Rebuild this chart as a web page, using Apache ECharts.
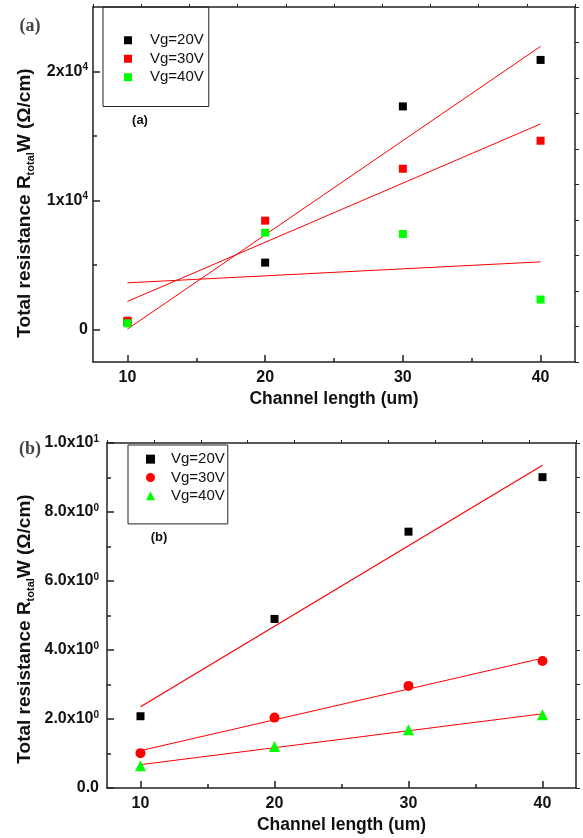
<!DOCTYPE html>
<html>
<head>
<meta charset="utf-8">
<script src="https://cdn.jsdelivr.net/npm/echarts@6/dist/echarts.min.js"></script>
<style>
  html, body { margin: 0; padding: 0; background: #fff; }
  #chart { width: 583px; height: 838px; }
</style>
</head>
<body>
<div id="chart"></div>
<script>
// Channel lengths (um)
const channelLength = [10, 20, 30, 40];
const seriesNames = ['Vg=20V', 'Vg=30V', 'Vg=40V'];

// Panel (a): total resistance R_total·W (Ω/cm)
const aVg20 = [600, 5200, 17300, 20900];
const aVg30 = [700, 8450, 12470, 14640];
const aVg40 = [500, 7520, 7420, 2340];

// Panel (b): total resistance R_total·W (Ω/cm)
const bVg20 = [2.08, 4.9, 7.43, 9.01];
const bVg30 = [1.01, 2.04, 2.96, 3.68];
const bVg40 = [0.645, 1.2, 1.69, 2.12];

// Tick values
const xTicks = [10, 20, 30, 40];
const xMinorTicks = [15, 25, 35];
const aYTicks = [0, 10000, 20000];
const aYMinorTicks = [5000, 15000];
const bYTicks = [0, 2, 4, 6, 8, 10];
const bYMinorTicks = [1, 3, 5, 7, 9];

const FONT = '"Liberation Sans", Arial, sans-serif';
const FRAME = '#222';
const RED = '#ff0000';
const GREEN = '#00ff00';
const BLACK = '#000000';

// Least-squares straight line through a data set, evaluated at the first and last x
function linearFit(xs, ys) {
  const n = xs.length;
  const mx = xs.reduce((s, v) => s + v, 0) / n;
  const my = ys.reduce((s, v) => s + v, 0) / n;
  let sxy = 0, sxx = 0;
  for (let i = 0; i < n; i++) {
    sxy += (xs[i] - mx) * (ys[i] - my);
    sxx += (xs[i] - mx) * (xs[i] - mx);
  }
  const k = sxy / sxx;
  const b = my - k * mx;
  const x0 = xs[0], x1 = xs[n - 1];
  return [[x0, k * x0 + b], [x1, k * x1 + b]];
}

function pairs(xs, ys) { return xs.map((x, i) => [x, ys[i]]); }

const tickRich = {
  m: { fontSize: 16, fontWeight: 'bold', fontFamily: FONT, color: '#111', lineHeight: 18 },
  s: { fontSize: 10, fontWeight: 'bold', fontFamily: FONT, color: '#111', lineHeight: 10, verticalAlign: 'top' }
};

function fmtA(v) {
  if (v === 0) return '{m|0}';
  return '{m|' + (v / 10000) + 'x10}{s|4}';
}
function fmtB(v) {
  if (v === 0) return '{m|0.0}';
  if (v === 10) return '{m|1.0x10}{s|1}';
  return '{m|' + v.toFixed(1) + 'x10}{s|0}';
}

const axisLineStyle = { color: FRAME, width: 1.5 };

function mainX(gridIndex) {
  return {
    gridIndex, type: 'value', min: 7.5, max: 42.5, position: 'bottom',
    axisLine: { show: true, onZero: false, lineStyle: axisLineStyle },
    axisTick: { show: true, inside: true, length: 7, customValues: xTicks, lineStyle: { color: FRAME, width: 1.5 } },
    axisLabel: { show: true, customValues: xTicks, margin: 8, fontSize: 16, fontWeight: 'bold', fontFamily: FONT, color: '#111' },
    splitLine: { show: false },
    name: 'Channel length (um)', nameLocation: 'middle', nameGap: 28,
    nameTextStyle: { fontSize: 17.5, fontWeight: 'bold', fontFamily: FONT, color: '#111' }
  };
}
function minorX(gridIndex) {
  return {
    gridIndex, type: 'value', min: 7.5, max: 42.5, position: 'bottom',
    axisLine: { show: false, onZero: false },
    axisTick: { show: true, inside: true, length: 4, customValues: xMinorTicks, lineStyle: { color: FRAME, width: 1.5 } },
    axisLabel: { show: false }, splitLine: { show: false }
  };
}
function topX(gridIndex) {
  return {
    gridIndex, type: 'value', min: 0, max: 10, interval: 1, position: 'top',
    axisLine: { show: true, onZero: false, lineStyle: axisLineStyle },
    axisTick: { show: true, inside: false, length: 3, lineStyle: { color: FRAME, width: 1 } },
    axisLabel: { show: false }, splitLine: { show: false }
  };
}

const option = {
  backgroundColor: '#fff',
  animation: false,
  grid: [
    { left: 93, top: 7, width: 482, height: 355 },
    { left: 107, top: 443, width: 469, height: 345 }
  ],
  xAxis: [mainX(0), minorX(0), topX(0), mainX(1), minorX(1), topX(1)],
  yAxis: [
    {
      gridIndex: 0, type: 'value', min: -2500, max: 25000, position: 'left',
      axisLine: { show: true, onZero: false, lineStyle: axisLineStyle },
      axisTick: { show: true, inside: true, length: 7, customValues: aYTicks, lineStyle: { color: FRAME, width: 1.5 } },
      axisLabel: { show: true, customValues: aYTicks, margin: 5, formatter: fmtA, rich: tickRich },
      splitLine: { show: false }
    },
    {
      gridIndex: 0, type: 'value', min: -2500, max: 25000, position: 'left',
      axisLine: { show: false, onZero: false },
      axisTick: { show: true, inside: true, length: 4, customValues: aYMinorTicks, lineStyle: { color: FRAME, width: 1.5 } },
      axisLabel: { show: false }, splitLine: { show: false }
    },
    {
      gridIndex: 0, type: 'value', min: -1, max: 9, interval: 1, position: 'right',
      axisLine: { show: true, onZero: false, lineStyle: axisLineStyle },
      axisTick: { show: true, inside: false, length: 4, lineStyle: { color: FRAME, width: 1 } },
      axisLabel: { show: false }, splitLine: { show: false }
    },
    {
      gridIndex: 1, type: 'value', min: 0, max: 10, interval: 2, position: 'left',
      axisLine: { show: true, onZero: false, lineStyle: axisLineStyle },
      axisTick: { show: true, inside: true, length: 7, customValues: bYTicks, lineStyle: { color: FRAME, width: 1.5 } },
      axisLabel: { show: true, customValues: bYTicks, margin: 8, formatter: fmtB, rich: tickRich },
      splitLine: { show: false }
    },
    {
      gridIndex: 1, type: 'value', min: 0, max: 10, position: 'left',
      axisLine: { show: false, onZero: false },
      axisTick: { show: true, inside: true, length: 4, customValues: bYMinorTicks, lineStyle: { color: FRAME, width: 1.5 } },
      axisLabel: { show: false }, splitLine: { show: false }
    },
    {
      gridIndex: 1, type: 'value', min: 0, max: 10, interval: 1, position: 'right',
      axisLine: { show: true, onZero: false, lineStyle: axisLineStyle },
      axisTick: { show: true, inside: false, length: 4, lineStyle: { color: FRAME, width: 1 } },
      axisLabel: { show: false }, splitLine: { show: false }
    }
  ],
  legend: [
    {
      orient: 'vertical', left: 103, top: 7,
      data: seriesNames.map(n => ({ name: n, icon: 'rect' })),
      itemWidth: 8, itemHeight: 8, itemGap: 0,
      padding: [24, 5, 20, 21],
      borderColor: FRAME, borderWidth: 1,
      textStyle: { fontSize: 15, fontFamily: FONT, color: '#111', lineHeight: 18.5, padding: [0, 0, 0, 13] },
      selectedMode: false
    },
    {
      orient: 'vertical', left: 128, top: 445,
      data: [
        { name: seriesNames[0], icon: 'rect' },
        { name: seriesNames[1], icon: 'circle' },
        { name: seriesNames[2], icon: 'triangle' }
      ],
      itemWidth: 9, itemHeight: 9, itemGap: 0,
      padding: [5, 3, 19, 18],
      borderColor: FRAME, borderWidth: 1,
      textStyle: { fontSize: 15, fontFamily: FONT, color: '#111', lineHeight: 18.3, padding: [0, 0, 0, 11] },
      selectedMode: false
    }
  ],
  graphic: [
    { type: 'text', x: 30, y: 26, style: { text: '(a)', fontSize: 18, fontWeight: 'bold', fontFamily: '"Liberation Serif", "Times New Roman", serif', fill: '#444', align: 'center', verticalAlign: 'middle' } },
    { type: 'text', x: 30, y: 449, style: { text: '(b)', fontSize: 18, fontWeight: 'bold', fontFamily: '"Liberation Serif", "Times New Roman", serif', fill: '#444', align: 'center', verticalAlign: 'middle' } },
    { type: 'text', x: 140, y: 120, style: { text: '(a)', fontSize: 13, fontWeight: 'bold', fontFamily: FONT, fill: '#111', align: 'center', verticalAlign: 'middle' } },
    { type: 'text', x: 159, y: 537, style: { text: '(b)', fontSize: 13, fontWeight: 'bold', fontFamily: FONT, fill: '#111', align: 'center', verticalAlign: 'middle' } },
    {
      type: 'text', x: 25, y: 203, rotation: Math.PI / 2,
      style: {
        text: '{a|Total resistance R}{s|total}{a|W (Ω/cm)}',
        align: 'center', verticalAlign: 'middle',
        rich: {
          a: { fontSize: 19, fontWeight: 'bold', fontFamily: FONT, fill: '#111', lineHeight: 22 },
          s: { fontSize: 11, fontWeight: 'bold', fontFamily: FONT, fill: '#111', lineHeight: 11, verticalAlign: 'bottom' }
        }
      }
    },
    {
      type: 'text', x: 25, y: 629, rotation: Math.PI / 2,
      style: {
        text: '{a|Total resistance R}{s|total}{a|W (Ω/cm)}',
        align: 'center', verticalAlign: 'middle',
        rich: {
          a: { fontSize: 19, fontWeight: 'bold', fontFamily: FONT, fill: '#111', lineHeight: 22 },
          s: { fontSize: 11, fontWeight: 'bold', fontFamily: FONT, fill: '#111', lineHeight: 11, verticalAlign: 'bottom' }
        }
      }
    }
  ],
  series: [
    // Panel (a) linear fits
    { type: 'line', name: 'fitA20', xAxisIndex: 0, yAxisIndex: 0, data: linearFit(channelLength, aVg20), symbol: 'none', lineStyle: { color: RED, width: 1 }, z: 1, silent: true },
    { type: 'line', name: 'fitA30', xAxisIndex: 0, yAxisIndex: 0, data: linearFit(channelLength, aVg30), symbol: 'none', lineStyle: { color: RED, width: 1 }, z: 1, silent: true },
    { type: 'line', name: 'fitA40', xAxisIndex: 0, yAxisIndex: 0, data: linearFit(channelLength, aVg40), symbol: 'none', lineStyle: { color: RED, width: 1 }, z: 1, silent: true },
    // Panel (a) measured points
    { type: 'scatter', name: seriesNames[0], xAxisIndex: 0, yAxisIndex: 0, data: pairs(channelLength, aVg20), symbol: 'rect', symbolSize: 8, itemStyle: { color: BLACK, opacity: 1 }, z: 2 },
    { type: 'scatter', name: seriesNames[1], xAxisIndex: 0, yAxisIndex: 0, data: pairs(channelLength, aVg30), symbol: 'rect', symbolSize: 8, itemStyle: { color: RED, opacity: 1 }, z: 3 },
    { type: 'scatter', name: seriesNames[2], xAxisIndex: 0, yAxisIndex: 0, data: pairs(channelLength, aVg40), symbol: 'rect', symbolSize: 8, itemStyle: { color: GREEN, opacity: 1 }, z: 4 },
    // Panel (b) linear fits
    { type: 'line', name: 'fitB20', xAxisIndex: 3, yAxisIndex: 3, data: linearFit(channelLength, bVg20), symbol: 'none', lineStyle: { color: RED, width: 1.2 }, z: 1, silent: true },
    { type: 'line', name: 'fitB30', xAxisIndex: 3, yAxisIndex: 3, data: linearFit(channelLength, bVg30), symbol: 'none', lineStyle: { color: RED, width: 1 }, z: 1, silent: true },
    { type: 'line', name: 'fitB40', xAxisIndex: 3, yAxisIndex: 3, data: linearFit(channelLength, bVg40), symbol: 'none', lineStyle: { color: RED, width: 1 }, z: 1, silent: true },
    // Panel (b) measured points
    { type: 'scatter', name: seriesNames[0], xAxisIndex: 3, yAxisIndex: 3, data: pairs(channelLength, bVg20), symbol: 'rect', symbolSize: 8, itemStyle: { color: BLACK, opacity: 1 }, z: 2 },
    { type: 'scatter', name: seriesNames[1], xAxisIndex: 3, yAxisIndex: 3, data: pairs(channelLength, bVg30), symbol: 'circle', symbolSize: 10, itemStyle: { color: RED, opacity: 1 }, z: 3 },
    { type: 'scatter', name: seriesNames[2], xAxisIndex: 3, yAxisIndex: 3, data: pairs(channelLength, bVg40), symbol: 'triangle', symbolSize: 11, itemStyle: { color: GREEN, opacity: 1 }, z: 4 }
  ]
};

const chart = echarts.init(document.getElementById('chart'), null, { renderer: 'canvas' });
chart.setOption(option);
</script>
</body>
</html>
